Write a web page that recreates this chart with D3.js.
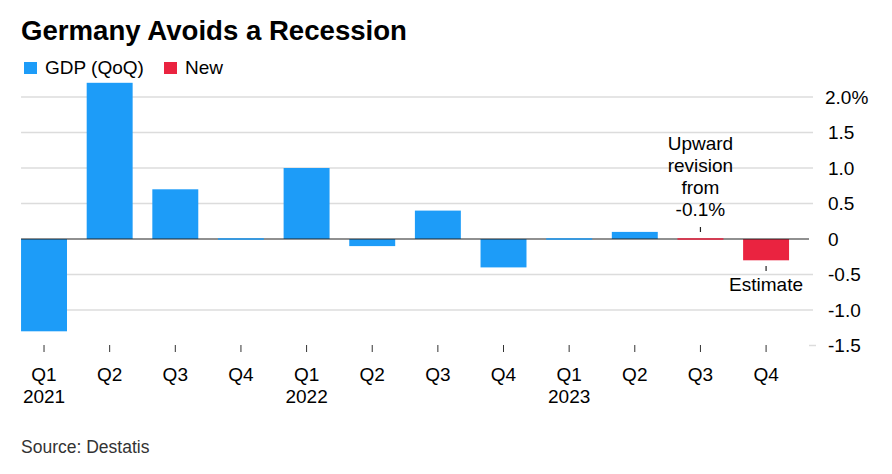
<!DOCTYPE html>
<html>
<head>
<meta charset="utf-8">
<script src="https://cdn.jsdelivr.net/npm/d3@7"></script>
<style>
  html, body { margin: 0; padding: 0; background: #fff; }
  svg { display: block; font-family: "Liberation Sans", Arial, sans-serif; }
</style>
</head>
<body>
<svg id="chart" width="892" height="474"></svg>
<script>
// ---- Data ----
const quarters = ["Q1","Q2","Q3","Q4","Q1","Q2","Q3","Q4","Q1","Q2","Q3","Q4"];
const years    = ["2021","","","","2022","","","","2023","","",""];
const gdp      = [-1.3, 2.2, 0.7, 0.0, 1.0, -0.1, 0.4, -0.4, 0.0, 0.1, null, null];
const newVals  = [null, null, null, null, null, null, null, null, null, null, 0.0, -0.3];
const yTicks      = [2.0, 1.5, 1.0, 0.5, 0, -0.5, -1.0, -1.5];
const yTickLabels = ["2.0%", "1.5", "1.0", "0.5", "0", "-0.5", "-1.0", "-1.5"];
const seriesNames = ["GDP (QoQ)", "New"];

const BLUE = "#1d9cf8";
const RED  = "#ea2340";

const svg = d3.select("#chart");
const idx = d3.range(quarters.length);

const x = d3.scaleBand().domain(idx).range([11.2, 798.9]).paddingInner(0.3).paddingOuter(0.15);
const y = d3.scaleLinear().domain([-1.5, 2.0]).range([345.5, 97]);

// Title
svg.append("text").attr("x", 21).attr("y", 40)
  .attr("font-size", 27.6).attr("font-weight", "bold").attr("fill", "#000")
  .text("Germany Avoids a Recession");

// Legend
const legend = [{name: seriesNames[0], color: BLUE, x: 24}, {name: seriesNames[1], color: RED, x: 164}];
legend.forEach(l => {
  svg.append("rect").attr("x", l.x).attr("y", 62).attr("width", 13).attr("height", 12).attr("fill", l.color);
  svg.append("text").attr("x", l.x + 21).attr("y", 74).attr("font-size", 19).attr("fill", "#000").text(l.name);
});

// Gridlines
const gridLeft = x(0), gridRight = 813;
svg.append("g").selectAll("line").data(yTicks.filter(t => t !== 0)).join("line")
  .attr("x1", d => d === -1.5 ? 809 : gridLeft).attr("x2", d => d === -1.5 ? 816 : gridRight)
  .attr("y1", d => y(d)).attr("y2", d => y(d))
  .attr("stroke", "#dcdcdc").attr("stroke-width", 1.5);

// Y axis labels (right)
svg.append("g").selectAll("text").data(yTicks).join("text")
  .attr("x", (d, i) => i === 0 ? 825 : 828).attr("y", d => y(d)).attr("dy", "0.36em")
  .attr("font-size", 19).attr("fill", "#000")
  .text((d, i) => yTickLabels[i]);

// Bars
function drawBars(vals, color) {
  const data = idx.filter(i => vals[i] !== null && vals[i] !== 0).map(i => ({i, v: vals[i]}));
  svg.append("g").selectAll("rect").data(data).join("rect")
    .attr("x", d => x(d.i)).attr("width", x.bandwidth())
    .attr("y", d => Math.min(y(d.v), y(0)))
    .attr("height", d => Math.abs(y(d.v) - y(0)))
    .attr("fill", color);
}
drawBars(gdp, BLUE);
drawBars(newVals, RED);

// Zero line
svg.append("line").attr("x1", gridLeft).attr("x2", 809).attr("y1", y(0)).attr("y2", y(0))
  .attr("stroke", "#222").attr("stroke-width", 1.2);

// Zero-valued bars as thin lines
function drawZero(vals, color) {
  const data = idx.filter(i => vals[i] === 0);
  svg.append("g").selectAll("rect").data(data).join("rect")
    .attr("x", i => x(i)).attr("width", x.bandwidth())
    .attr("y", y(0) - 1).attr("height", 2)
    .attr("fill", color).attr("opacity", 0.75);
}
drawZero(gdp, BLUE);
drawZero(newVals, RED);

// X axis ticks & labels
const cx = i => x(i) + x.bandwidth() / 2;
svg.append("g").selectAll("line").data(idx).join("line")
  .attr("x1", cx).attr("x2", cx).attr("y1", 345).attr("y2", 352)
  .attr("stroke", "#333").attr("stroke-width", 1);
svg.append("g").selectAll("text").data(idx).join("text")
  .attr("x", cx).attr("y", 381).attr("text-anchor", "middle")
  .attr("font-size", 19).attr("fill", "#000").text(i => quarters[i]);
svg.append("g").selectAll("text").data(idx.filter(i => years[i])).join("text")
  .attr("x", cx).attr("y", 403).attr("text-anchor", "middle")
  .attr("font-size", 19).attr("fill", "#000").text(i => years[i]);

// Annotations
const a1 = cx(10);
const a1Lines = ["Upward", "revision", "from", "-0.1%"];
svg.append("g").selectAll("text").data(a1Lines).join("text")
  .attr("x", a1).attr("y", (d, k) => 150 + k * 22).attr("text-anchor", "middle")
  .attr("font-size", 19).attr("fill", "#000").text(d => d);
svg.append("line").attr("x1", a1).attr("x2", a1).attr("y1", 227).attr("y2", 232)
  .attr("stroke", "#222").attr("stroke-width", 1.2);

const a2 = cx(11);
svg.append("line").attr("x1", a2).attr("x2", a2).attr("y1", 266).attr("y2", 271)
  .attr("stroke", "#222").attr("stroke-width", 1.2);
svg.append("text").attr("x", a2).attr("y", 291).attr("text-anchor", "middle")
  .attr("font-size", 19).attr("fill", "#000").text("Estimate");

// Source
svg.append("text").attr("x", 21).attr("y", 453)
  .attr("font-size", 17.5).attr("fill", "#333").text("Source: Destatis");
</script>
</body>
</html>
